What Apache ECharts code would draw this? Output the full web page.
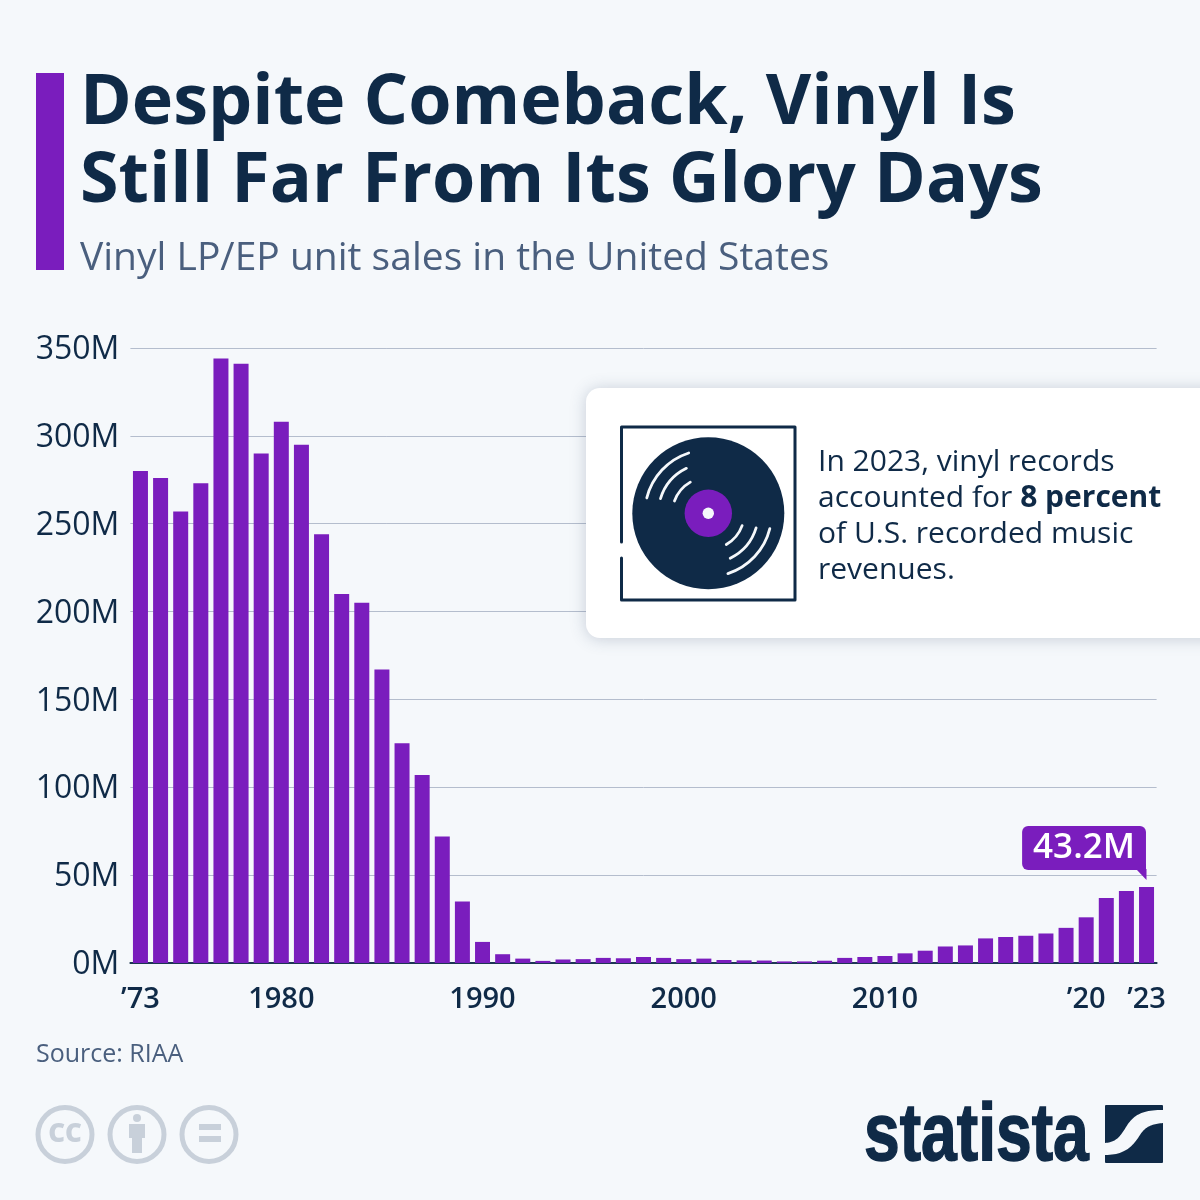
<!DOCTYPE html>
<html>
<head>
<meta charset="utf-8">
<title>Vinyl LP/EP unit sales</title>
<script src="https://cdn.jsdelivr.net/npm/echarts@6/dist/echarts.min.js"></script>
<style>
html, body { margin: 0; padding: 0; background: #f5f8fb; }
#main { width: 1200px; height: 1200px; }
</style>
</head>
<body>
<div id="main"></div>
<script>
var years = ['1973','1974','1975','1976','1977','1978','1979','1980','1981','1982','1983','1984','1985','1986','1987','1988','1989','1990','1991','1992','1993','1994','1995','1996','1997','1998','1999','2000','2001','2002','2003','2004','2005','2006','2007','2008','2009','2010','2011','2012','2013','2014','2015','2016','2017','2018','2019','2020','2021','2022','2023'];
var sales = [280,276,257,273,344,341,290,308,295,244,210,205,167,125,107,72,35,12,5,2.5,1.2,2,2.2,2.9,2.7,3.4,2.9,2.2,2.5,1.7,1.5,1.4,0.9,0.9,1.3,2.9,3.4,4,5.5,7,9.4,10,14,14.8,15.5,16.8,20,26,37,41,43.2];
var xLabels = {'1973':'’73','1980':'1980','1990':'1990','2000':'2000','2010':'2010','2020':'’20','2023':'’23'};

var NAVY = '#0f2a47';
var PURPLE = '#7a1dbd';
var BG = '#f5f8fb';
var FONT = '"Open Sans"';

function groove(r, a0, a1) {
    return {
        type: 'arc',
        shape: { cx: 708.3, cy: 513.3, r: r, startAngle: a0 * Math.PI / 180, endAngle: a1 * Math.PI / 180, clockwise: true },
        style: { fill: null, stroke: BG, lineWidth: 2.8, lineCap: 'round' },
        z: 12
    };
}

// samples a cubic bezier into points, the graphic component has no svg path type
function bez(p0, p1, p2, p3) {
    var pts = [];
    for (var i = 0; i <= 24; i++) {
        var t = i / 24, u = 1 - t;
        pts.push([
            u*u*u*p0[0] + 3*u*u*t*p1[0] + 3*u*t*t*p2[0] + t*t*t*p3[0],
            u*u*u*p0[1] + 3*u*u*t*p1[1] + 3*u*t*t*p2[1] + t*t*t*p3[1]
        ]);
    }
    return pts;
}

var swoosh = [].concat(
    bez([1163, 1110], [1140, 1110], [1133, 1116], [1126, 1127]),
    bez([1126, 1127], [1120, 1137], [1116, 1142], [1105, 1143]),
    bez([1105, 1155], [1125, 1155], [1133, 1146], [1140, 1135]),
    bez([1140, 1135], [1145, 1127], [1151, 1124], [1163, 1123])
);

var chart = echarts.init(document.getElementById('main'));
var option = {
    backgroundColor: BG,
    animation: false,
    title: [
        {
            text: 'Despite Comeback, Vinyl Is\nStill Far From Its Glory Days',
            left: 80, top: 65, padding: 0,
            textStyle: { fontFamily: FONT, fontWeight: 700, fontSize: 70, lineHeight: 78, color: NAVY }
        },
        {
            text: 'Vinyl LP/EP unit sales in the United States',
            left: 80, top: 237, padding: 0,
            textStyle: { fontFamily: FONT, fontWeight: 400, fontSize: 39, lineHeight: 44, color: '#4a5f7e' }
        },
        {
            text: 'Source: RIAA',
            left: 36, top: 1040, padding: 0,
            textStyle: { fontFamily: FONT, fontWeight: 400, fontSize: 25, lineHeight: 30, color: '#4a5f7e' }
        }
    ],
    grid: { left: 130.4, right: 43.4, top: 348, bottom: 237 },
    xAxis: {
        type: 'category',
        data: years,
        axisTick: { show: false },
        axisLine: { lineStyle: { color: '#1d3653', width: 2 } },
        axisLabel: {
            interval: function (i, v) { return xLabels[v] !== undefined; },
            formatter: function (v) { return xLabels[v]; },
            hideOverlap: false,
            margin: 22,
            fontFamily: FONT, fontWeight: 600, fontSize: 29, color: NAVY
        }
    },
    yAxis: {
        type: 'value',
        min: 0, max: 350, interval: 50,
        axisLine: { show: false },
        axisTick: { show: false },
        splitLine: { lineStyle: { color: '#b4bdcd', width: 1 } },
        axisLabel: {
            margin: 11,
            formatter: '{n|{value}M}',
            rich: { n: { fontFamily: FONT, fontSize: 32, color: NAVY, padding: [4, 0, 0, 0] } }
        }
    },
    series: [{
        type: 'bar',
        barWidth: 15,
        itemStyle: { color: PURPLE },
        data: sales.map(function (v, i) {
            if (i !== sales.length - 1) return v;
            return {
                value: v,
                label: {
                    show: true,
                    position: 'top',
                    distance: 17,
                    offset: [-62.5, 0],
                    formatter: '{c}M',
                    fontFamily: FONT, fontWeight: 600, fontSize: 35, lineHeight: 38, color: '#fff',
                    backgroundColor: PURPLE,
                    borderRadius: [6, 6, 0, 6],
                    padding: [3, 11, 3, 11]
                }
            };
        })
    }],
    graphic: [
        { type: 'rect', shape: { x: 36, y: 73, width: 28, height: 197 }, style: { fill: PURPLE } },
        // callout tail
        { type: 'polygon', shape: { points: [[1136, 869], [1146.5, 869], [1146.5, 880]] }, style: { fill: PURPLE }, z: 5 },
        // card
        {
            type: 'rect',
            shape: { x: 586, y: 388, width: 640, height: 250, r: 14 },
            style: { fill: '#fff', shadowBlur: 16, shadowColor: 'rgba(60,80,110,0.25)', shadowOffsetY: 1 },
            z: 10
        },
        {
            type: 'polyline',
            shape: { points: [[621.5, 542], [621.5, 427], [795, 427], [795, 600], [621.5, 600], [621.5, 558]] },
            style: { fill: null, stroke: NAVY, lineWidth: 3, lineCap: 'round', lineJoin: 'round' },
            z: 11
        },
        { type: 'circle', shape: { cx: 708.3, cy: 513.3, r: 76 }, style: { fill: NAVY }, z: 11 },
        { type: 'circle', shape: { cx: 708.3, cy: 513.3, r: 23.7 }, style: { fill: PURPLE }, z: 12 },
        { type: 'circle', shape: { cx: 708.3, cy: 513.3, r: 5.7 }, style: { fill: BG }, z: 13 },
        groove(63.4, 194, 252), groove(50, 197, 244), groove(36, 200, 240),
        groove(63.4, 14, 72), groove(50, 17, 64), groove(36, 20, 60),
        {
            type: 'text',
            x: 818, y: 444,
            style: {
                text: 'In 2023, vinyl records\naccounted for {b|8 percent}\nof U.S. recorded music\nrevenues.',
                fontFamily: FONT, fontSize: 30, lineHeight: 36, fill: NAVY,
                rich: { b: { fontFamily: FONT, fontWeight: 700, fontSize: 30, lineHeight: 36, fill: NAVY } }
            },
            z: 12
        },
        // licence badges
        { type: 'circle', shape: { cx: 65, cy: 1134.5, r: 27 }, style: { fill: null, stroke: '#c8d0da', lineWidth: 5 } },
        { type: 'circle', shape: { cx: 137, cy: 1134.5, r: 27 }, style: { fill: null, stroke: '#c8d0da', lineWidth: 5 } },
        { type: 'circle', shape: { cx: 209, cy: 1134.5, r: 27 }, style: { fill: null, stroke: '#c8d0da', lineWidth: 5 } },
        {
            type: 'text', x: 65, y: 1134.5,
            style: { text: 'CC', fontFamily: FONT, fontWeight: 800, fontSize: 26, fill: '#c8d0da', align: 'center', verticalAlign: 'middle' }
        },
        { type: 'circle', shape: { cx: 137, cy: 1118, r: 4 }, style: { fill: '#c8d0da' } },
        { type: 'polygon', shape: { points: [[129, 1124], [145, 1124], [145, 1138], [142, 1138], [142, 1153], [132, 1153], [132, 1138], [129, 1138]] }, style: { fill: '#c8d0da' } },
        { type: 'rect', shape: { x: 199, y: 1124, width: 22, height: 6 }, style: { fill: '#c8d0da' } },
        { type: 'rect', shape: { x: 199, y: 1136, width: 22, height: 6 }, style: { fill: '#c8d0da' } },
        // statista logo
        {
            type: 'text', x: 864, y: 1096, scaleX: 0.783,
            style: { text: 'statista', fontFamily: '"Liberation Sans"', fontWeight: 700, fontSize: 82, fill: NAVY, stroke: NAVY, lineWidth: 1.5 }
        },
        { type: 'rect', shape: { x: 1105, y: 1105, width: 58, height: 58, r: 1 }, style: { fill: NAVY } },
        { type: 'polygon', shape: { points: swoosh }, style: { fill: BG } }
    ]
};
chart.setOption(option);
</script>
</body>
</html>
